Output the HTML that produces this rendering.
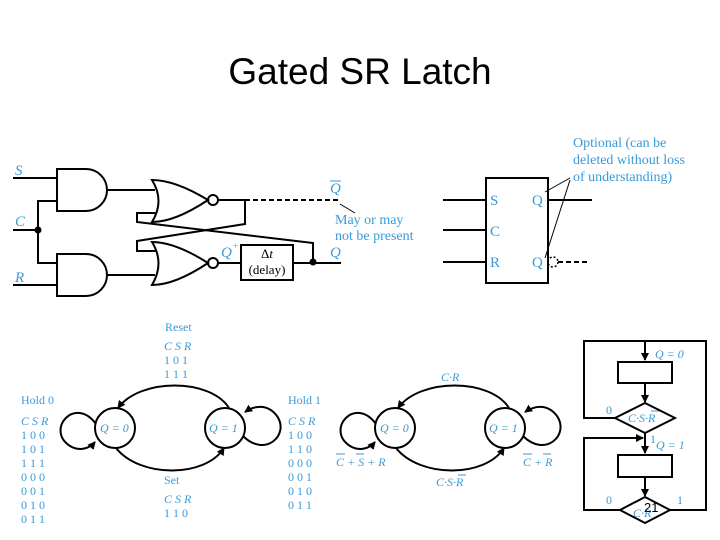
<!DOCTYPE html>
<html><head><style>body{margin:0;background:#fff}svg{display:block}</style></head><body>
<svg width="720" height="540" viewBox="0 0 720 540" xmlns="http://www.w3.org/2000/svg">
<defs><marker id="a" markerWidth="8" markerHeight="8" refX="7" refY="4" orient="auto" markerUnits="userSpaceOnUse"><path d="M0,0 L8,4 L0,8 Z" fill="#000"/></marker></defs>
<text x="360" y="84" font-family="Liberation Sans, sans-serif" font-size="37" text-anchor="middle" fill="#000">Gated SR Latch</text>
<g stroke="#000" stroke-width="2" fill="none">
<line x1="13" y1="178" x2="57" y2="178"/>
<line x1="13" y1="230" x2="38" y2="230"/>
<line x1="13" y1="285" x2="57" y2="285"/>
<polyline points="57,201 38,201 38,263 57,263"/>
<path d="M57,169 H86 A21,21 0 0 1 86,211 H57 Z"/>
<path d="M57,254 H86 A21,21 0 0 1 86,296 H57 Z"/>
<line x1="107" y1="190" x2="155" y2="190"/>
<line x1="107" y1="275" x2="155" y2="275"/>
<path d="M152,180 Q175,180 208,200 Q175,222 152,222 Q165,201 152,180 Z"/>
<path d="M152,242 Q175,242 208,263 Q175,285 152,285 Q165,263 152,242 Z"/>
<circle cx="213" cy="200" r="5"/>
<circle cx="213" cy="263" r="5"/>
<line x1="218" y1="200" x2="245" y2="200"/>
<polyline points="245,200 245,224 137,241 137,251 156,251"/>
<polyline points="156,213 137,213 137,222 313,243 313,263"/>
<line x1="245" y1="200" x2="340" y2="200" stroke-dasharray="5,3"/>
<line x1="218" y1="263" x2="241" y2="263"/>
<rect x="241" y="245" width="52" height="35"/>
<line x1="293" y1="263" x2="341" y2="263"/>
<line x1="340" y1="204" x2="355" y2="213" stroke-width="1"/>
<rect x="486" y="178" width="62" height="105"/>
<line x1="443" y1="200" x2="486" y2="200"/>
<line x1="443" y1="230" x2="486" y2="230"/>
<line x1="443" y1="262" x2="486" y2="262"/>
<line x1="548" y1="200" x2="592" y2="200"/>
<circle cx="553" cy="262" r="5" stroke-dasharray="2,2" stroke-width="1.5"/>
<line x1="558" y1="262" x2="590" y2="262" stroke-dasharray="5,3"/>
<line x1="545" y1="192" x2="570" y2="178" stroke-width="1"/>
<line x1="545" y1="258" x2="570" y2="180" stroke-width="1"/>
</g>
<circle cx="38" cy="230" r="3.5"/><circle cx="313" cy="262" r="3.5"/>
<g font-family="Liberation Serif, serif" fill="#3a9ad9" font-size="15">
<text x="15" y="175" font-style="italic">S</text>
<text x="15" y="226" font-style="italic">C</text>
<text x="15" y="282" font-style="italic">R</text>
<text x="330" y="193" font-style="italic">Q</text>
<line x1="330" y1="181" x2="341" y2="181" stroke="#3a9ad9"/>
<text x="330" y="257" font-style="italic">Q</text>
<text x="221" y="257" font-style="italic">Q</text><text x="233" y="249" font-size="9">+</text>
<text x="335" y="224" font-size="14">May or may</text>
<text x="335" y="240" font-size="14">not be present</text>
<text x="490" y="205">S</text><text x="490" y="236">C</text><text x="490" y="267">R</text>
<text x="532" y="205">Q</text><text x="532" y="267">Q</text>
<text x="573" y="147" font-size="14">Optional (can be</text>
<text x="573" y="164" font-size="14">deleted without loss</text>
<text x="573" y="181" font-size="14">of understanding)</text>
</g>
<text x="267" y="258" font-family="Liberation Serif, serif" font-size="13" text-anchor="middle">Δ<tspan font-style="italic">t</tspan></text>
<text x="267" y="274" font-family="Liberation Serif, serif" font-size="13" text-anchor="middle">(delay)</text>
<g stroke="#000" stroke-width="2" fill="none">
<circle cx="115" cy="428" r="20"/><circle cx="225" cy="428" r="20"/>
<path d="M229,408 C210,378 140,378 118,408" marker-end="url(#a)"/>
<path d="M116,448 C140,478 205,478 224,448" marker-end="url(#a)"/>
<path d="M96,424 C75,395 45,430 70,446 C80,452 90,448 95,442" marker-end="url(#a)"/>
<path d="M243,436 C265,458 290,435 277,416 C268,404 255,405 245,412" marker-end="url(#a)"/>
<circle cx="395" cy="428" r="20"/><circle cx="505" cy="428" r="20"/>
<path d="M509,408 C490,378 420,378 398,408" marker-end="url(#a)"/>
<path d="M396,448 C420,478 485,478 504,448" marker-end="url(#a)"/>
<path d="M376,424 C355,395 325,430 350,446 C360,452 370,448 375,442" marker-end="url(#a)"/>
<path d="M523,436 C545,458 570,435 557,416 C548,404 535,405 525,412" marker-end="url(#a)"/>
</g>
<g font-family="Liberation Serif, serif" fill="#3a9ad9" font-size="12">
<text x="100" y="432" font-style="italic">Q = 0</text><text x="209" y="432" font-style="italic">Q = 1</text>
<text x="380" y="432" font-style="italic">Q = 0</text><text x="489" y="432" font-style="italic">Q = 1</text>
<text x="165" y="331">Reset</text>
<text x="164" y="350" font-style="italic">C S R</text><text x="164" y="364">1 0 1</text><text x="164" y="378">1 1 1</text>
<text x="21" y="404">Hold 0</text>
<text x="21" y="425" font-style="italic">C S R</text>
<text x="21" y="439">1 0 0</text><text x="21" y="453">1 0 1</text><text x="21" y="467">1 1 1</text><text x="21" y="481">0 0 0</text><text x="21" y="495">0 0 1</text><text x="21" y="509">0 1 0</text><text x="21" y="523">0 1 1</text>
<text x="288" y="404">Hold 1</text>
<text x="288" y="425" font-style="italic">C S R</text>
<text x="288" y="439">1 0 0</text><text x="288" y="453">1 1 0</text><text x="288" y="467">0 0 0</text><text x="288" y="481">0 0 1</text><text x="288" y="495">0 1 0</text><text x="288" y="509">0 1 1</text>
<text x="164" y="484">Set</text>
<text x="164" y="503" font-style="italic">C S R</text><text x="164" y="517">1 1 0</text>
<text x="441" y="381" font-style="italic">C·R</text>
<text x="336" y="466" font-style="italic">C + S + R</text>
<line x1="336" y1="454" x2="345" y2="454" stroke="#3a9ad9"/><line x1="356" y1="454" x2="364" y2="454" stroke="#3a9ad9"/>
<text x="436" y="486" font-style="italic">C·S·R</text><line x1="458" y1="475" x2="466" y2="475" stroke="#3a9ad9"/>
<text x="523" y="466" font-style="italic">C + R</text>
<line x1="523" y1="454" x2="532" y2="454" stroke="#3a9ad9"/><line x1="543" y1="454" x2="551" y2="454" stroke="#3a9ad9"/>
<text x="655" y="358" font-style="italic">Q = 0</text>
<text x="606" y="414">0</text>
<text x="628" y="422" font-style="italic">C·S·R</text><line x1="651" y1="411" x2="659" y2="411" stroke="#3a9ad9"/>
<text x="650" y="443">1</text><text x="656" y="449" font-style="italic">Q = 1</text>
<text x="606" y="504">0</text><text x="677" y="504">1</text>
<text x="633" y="517" font-style="italic">C·R</text>
</g>
<g stroke="#000" stroke-width="2" fill="none">
<polyline points="615,418 584,418 584,341 706,341 706,510 670,510"/>
<line x1="645" y1="341" x2="645" y2="360" marker-end="url(#a)"/>
<rect x="618" y="362" width="54" height="21"/>
<line x1="645" y1="383" x2="645" y2="402" marker-end="url(#a)"/>
<polygon points="645,403 675,418 645,433 615,418"/>
<line x1="645" y1="433" x2="645" y2="453" marker-end="url(#a)"/>
<polyline points="620,510 584,510 584,438 643,438" marker-end="url(#a)"/>
<rect x="618" y="455" width="54" height="22"/>
<line x1="645" y1="477" x2="645" y2="496" marker-end="url(#a)"/>
<polygon points="645,497 670,510 645,523 620,510"/>
</g>
<text x="644" y="512" font-family="Liberation Sans, sans-serif" font-size="13" fill="#000">21</text>
</svg>
</body></html>
